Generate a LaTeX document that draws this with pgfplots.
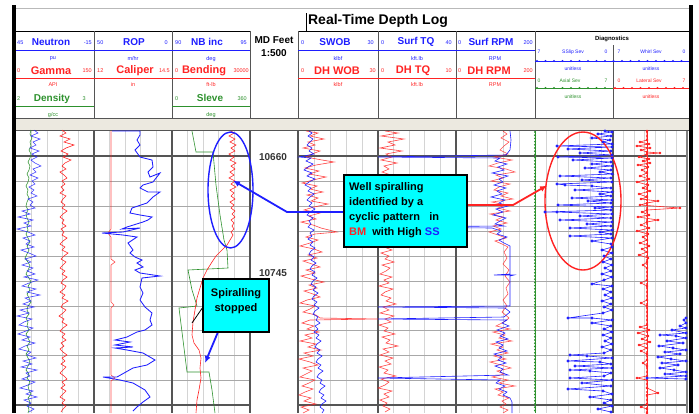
\documentclass[border=0pt]{standalone}
\usepackage{fontspec}
\setmainfont{Liberation Sans}
\usepackage{pgfplots}
\pgfplotsset{compat=1.18}
\usetikzlibrary{arrows.meta}

\definecolor{logblue}{RGB}{30,30,255}
\definecolor{logred}{RGB}{255,35,35}
\definecolor{loggreen}{RGB}{45,145,45}
\definecolor{gridminor}{RGB}{212,212,212}
\definecolor{gridmajor}{RGB}{168,168,168}
\definecolor{trackline}{RGB}{85,85,85}
\definecolor{band}{RGB}{236,233,224}
\definecolor{callout}{RGB}{0,255,255}

\tikzset{
  hname/.style={font=\fontsize{10}{11}\selectfont\bfseries, inner sep=0pt},
  rname/.style={font=\fontsize{11}{12}\selectfont\bfseries, inner sep=0pt},
  hnum/.style={font=\fontsize{5.5}{6}\selectfont, inner sep=0pt},
  dnum/.style={font=\fontsize{5}{6}\selectfont, inner sep=0pt},
  ctext/.style={font=\fontsize{11}{12}\selectfont\bfseries, inner sep=0pt, anchor=west},
  trace/.style={line width=0.6pt},
}

\begin{document}
\begin{tikzpicture}[x=1pt,y=1pt]
\useasboundingbox (0,0) rectangle (699,413);
\begin{axis}[at={(0,0)}, anchor=south west, width=699pt, height=413pt,
  scale only axis, xmin=0, xmax=699, ymin=0, ymax=413, y dir=reverse,
  hide axis, clip=false]

% ---------- header frame ----------
\draw[gray!55, line width=1] (12,8) -- (693,8);
\draw[black, line width=0.8] (16,31) -- (250,31);
\draw[black, line width=0.8] (298,31) -- (689,31);
\draw[black, line width=0.8] (306,13) -- (306,31);
\fill[band] (16,119) rectangle (689,130);
\draw[trackline, line width=1.3] (16,118.5) -- (689,118.5);
\draw[trackline, line width=1.3] (16,130.5) -- (689,130.5);
\pgfplotsinvokeforeach{94,172,250,298,378,456,535}{
  \draw[trackline, line width=1] (#1,31) -- (#1,118.5);}
\draw[trackline, line width=1] (613,45) -- (613,118.5);

% scale lines of the curve headers
\draw[logblue, line width=1] (16,50) -- (250,50);
\draw[logblue, line width=1] (298,50) -- (535,50);
\draw[logred, line width=1] (16,78) -- (250,78);
\draw[logred, line width=1] (298,78) -- (535,78);
\draw[loggreen, line width=1] (16,106) -- (94,106);
\draw[loggreen, line width=1] (172,106) -- (250,106);
% diagnostics scale lines (dotted)
\draw[logblue, line width=0.7] (535,61) -- (689,61);
\draw[logblue, line width=2.2, line cap=round, dash pattern=on 0pt off 8.5pt] (537,61) -- (689,61);
\draw[loggreen, line width=0.7] (535,88) -- (613,88);
\draw[loggreen, line width=2.2, line cap=round, dash pattern=on 0pt off 8.5pt] (537,88) -- (613,88);
\draw[logred, line width=0.7] (613,88) -- (689,88);
\draw[logred, line width=2.2, line cap=round, dash pattern=on 0pt off 8.5pt] (615,88) -- (689,88);

% ---------- header text ----------
\node[font=\fontsize{14}{15}\selectfont\bfseries, inner sep=0pt] at (378,21) {Real-Time Depth Log};

% track 1
\node[hnum, text=logblue, anchor=west] at (17,43) {45};
\node[hname, text=logblue] at (51,42) {Neutron};
\node[hnum, text=logblue, anchor=east] at (92,43) {-15};
\node[hnum, text=logblue] at (53,59) {pu};
\node[hnum, text=logred, anchor=west] at (17,71) {0};
\node[rname, text=logred] at (51,70.5) {Gamma};
\node[hnum, text=logred, anchor=east] at (92,71) {150};
\node[hnum, text=logred] at (53,85) {API};
\node[hnum, text=loggreen, anchor=west] at (17,99) {2};
\node[hname, text=loggreen] at (52,98.5) {Density};
\node[hnum, text=loggreen, anchor=east] at (86,99) {3};
\node[hnum, text=loggreen] at (53,115) {g/cc};
% track 2
\node[hnum, text=logblue, anchor=west] at (97,43) {50};
\node[hname, text=logblue] at (134,42) {ROP};
\node[hnum, text=logblue, anchor=east] at (168,43) {0};
\node[hnum, text=logblue] at (133,59) {m/hr};
\node[hnum, text=logred, anchor=west] at (97,71) {12};
\node[rname, text=logred] at (135,70.5) {Caliper};
\node[hnum, text=logred, anchor=east] at (170,71) {14.5};
\node[hnum, text=logred] at (133,85) {in};
% track 3
\node[hnum, text=logblue, anchor=west] at (175,43) {90};
\node[hname, text=logblue] at (207,42) {NB inc};
\node[hnum, text=logblue, anchor=east] at (247,43) {95};
\node[hnum, text=logblue] at (211,59) {deg};
\node[hnum, text=logred, anchor=west] at (175,71) {0};
\node[rname, text=logred] at (204,70.5) {Bending};
\node[hnum, text=logred, anchor=east] at (249,71) {30000};
\node[hnum, text=logred] at (211,85) {ft-lb};
\node[hnum, text=loggreen, anchor=west] at (175,99) {0};
\node[hname, text=loggreen] at (210,98) {Sleve};
\node[hnum, text=loggreen, anchor=east] at (247,99) {360};
\node[hnum, text=loggreen] at (211,115) {deg};
% depth track
\node[font=\fontsize{10}{11}\selectfont\bfseries, inner sep=0pt] at (274,40) {MD Feet};
\node[font=\fontsize{10}{11}\selectfont\bfseries, inner sep=0pt] at (274,53) {1:500};
% track 4
\node[hnum, text=logblue, anchor=west] at (301,43) {0};
\node[hname, text=logblue] at (335,42) {SWOB};
\node[hnum, text=logblue, anchor=east] at (374,43) {30};
\node[hnum, text=logblue] at (338,59) {klbf};
\node[hnum, text=logred, anchor=west] at (301,71) {0};
\node[rname, text=logred] at (337,70.5) {DH WOB};
\node[hnum, text=logred, anchor=east] at (376,71) {30};
\node[hnum, text=logred] at (338,85) {klbf};
% track 5
\node[hnum, text=logblue, anchor=west] at (381,43) {0};
\node[hname, text=logblue] at (416,42) {Surf TQ};
\node[hnum, text=logblue, anchor=east] at (452,43) {40};
\node[hnum, text=logblue] at (417,59) {kft.lb};
\node[hnum, text=logred, anchor=west] at (381,71) {0};
\node[rname, text=logred] at (413,70.5) {DH TQ};
\node[hnum, text=logred, anchor=east] at (452,71) {10};
\node[hnum, text=logred] at (417,85) {kft.lb};
% track 6
\node[hnum, text=logblue, anchor=west] at (458,43) {0};
\node[hname, text=logblue] at (491,42) {Surf RPM};
\node[hnum, text=logblue, anchor=east] at (533,43) {200};
\node[hnum, text=logblue] at (495,59) {RPM};
\node[hnum, text=logred, anchor=west] at (458,71) {0};
\node[rname, text=logred] at (489,70.5) {DH RPM};
\node[hnum, text=logred, anchor=east] at (533,71) {200};
\node[hnum, text=logred] at (495,85) {RPM};
% diagnostics
\node[font=\fontsize{6}{7}\selectfont\bfseries, inner sep=0pt] at (612,39) {Diagnostics};
\node[dnum, text=logblue] at (539,52) {7};
\node[dnum, text=logblue] at (573,52) {SSlip Sev};
\node[dnum, text=logblue] at (606,52) {0};
\node[dnum, text=logblue] at (573,69) {unitless};
\node[dnum, text=logblue] at (619,52) {7};
\node[dnum, text=logblue] at (651,52) {Whirl Sev};
\node[dnum, text=logblue] at (684,52) {0};
\node[dnum, text=logblue] at (651,69) {unitless};
\node[dnum, text=loggreen] at (539,81) {0};
\node[dnum, text=loggreen] at (570,81) {Axial Sev};
\node[dnum, text=loggreen] at (606,81) {7};
\node[dnum, text=loggreen] at (573,97) {unitless};
\node[dnum, text=logred] at (619,81) {0};
\node[dnum, text=logred] at (649,81) {Lateral Sev};
\node[dnum, text=logred] at (684,81) {7};
\node[dnum, text=logred] at (651,97) {unitless};

% ---------- data area grid ----------
\pgfplotsinvokeforeach{31.6,47.2,62.8,78.4,109.6,125.2,140.8,156.4,187.6,203.2,218.8,234.4,
  314,330,346,362,393.6,409.2,424.8,440.4,471.8,487.6,503.4,519.2,
  546.1,557.3,568.4,579.6,590.7,601.9,623.6,634.1,644.7,655.3,665.9,676.4}{
  \draw[gridminor, line width=0.9] (#1,131) -- (#1,413);}
\pgfplotsinvokeforeach{181,206,231,256,281,306,330,355,380}{
  \draw[gridmajor, line width=0.9] (16,#1) -- (250,#1);
  \draw[gridmajor, line width=0.9] (298,#1) -- (687,#1);}
\draw[trackline, line width=1.4] (16,156) -- (250,156);
\draw[trackline, line width=1.4] (298,156) -- (687,156);
\draw[trackline, line width=1.4] (16,405) -- (250,405);
\draw[trackline, line width=1.4] (298,405) -- (687,405);
\pgfplotsinvokeforeach{94,172,250,298,378,456,613}{
  \draw[trackline, line width=1.1] (#1,131) -- (#1,413);}
\draw[gray, line width=1.1] (687,131) -- (687,413);

% depth labels
\node[font=\fontsize{10}{11}\selectfont\bfseries, text=black!80, inner sep=0pt] at (273,157) {10660};
\node[font=\fontsize{10}{11}\selectfont\bfseries, text=black!80, inner sep=0pt] at (273,273) {10745};

% ---------- track 1: Density, Neutron, Gamma ----------
\addplot[loggreen, trace] coordinates {
(31,130)(30,134)(32,138)(30,142)(31,146)(29,150)(31,154)(30,158)(28,162)(30,166)(29,170)(27,174)
(29,178)(28,182)(26,186)(28,190)(27,194)(29,198)(27,202)(26,206)(28,210)(26,214)(27,218)(29,222)
(27,226)(28,230)(26,234)(28,238)(30,242)(27,246)(29,250)(27,254)(25,258)(28,262)(30,266)(28,270)
(26,274)(29,278)(31,282)(28,286)(30,290)(27,294)(29,298)(31,302)(28,306)(27,310)(29,314)(26,318)
(28,322)(27,326)(29,330)(26,334)(28,338)(30,342)(27,346)(29,350)(26,354)(28,358)(30,362)(28,366)
(26,370)(29,374)(27,378)(30,382)(28,386)(29,390)(31,394)(28,398)(30,402)(28,406)(29,410)(28,413)};
\addplot[logblue, trace, opacity=0.85] coordinates {
(34,130)(38,133)(31,136)(40,139)(33,142)(36,145)(30,148)(39,151)(32,154)(37,157)(31,160)(35,163)
(41,166)(33,169)(36,172)(30,175)(38,178)(32,181)(35,184)(29,187)(34,190)(31,193)(37,196)(28,199)
(33,202)(30,205)(35,208)(22,211)(30,214)(18,217)(33,220)(24,223)(31,226)(17,229)(28,232)(35,235)
(23,238)(30,241)(26,244)(34,247)(21,250)(29,253)(36,256)(25,259)(31,262)(22,265)(33,268)(27,271)
(35,274)(24,277)(38,280)(29,283)(22,286)(36,289)(27,292)(40,295)(25,298)(31,301)(23,304)(34,307)
(20,310)(29,313)(17,316)(32,319)(24,322)(19,325)(33,328)(26,331)(18,334)(30,337)(22,340)(35,343)
(25,346)(19,349)(31,352)(27,355)(36,358)(23,361)(32,364)(21,367)(37,370)(26,373)(30,376)(22,379)
(35,382)(28,385)(20,388)(33,391)(26,394)(37,397)(24,400)(31,403)(27,406)(34,409)(29,412)};
\addplot[logred, trace] coordinates {
(62,130)(66,133)(60,136)(70,139)(64,142)(74,145)(66,148)(61,151)(68,154)(63,157)(71,160)(65,163)
(62,166)(66,169)(60,172)(64,175)(67,178)(62,181)(65,184)(61,187)(64,190)(60,193)(66,196)(63,199)
(61,202)(65,205)(62,208)(67,211)(63,214)(60,217)(64,220)(62,223)(66,226)(61,229)(64,232)(62,235)
(67,238)(63,241)(60,244)(65,247)(62,250)(68,253)(64,256)(61,259)(66,262)(63,265)(60,268)(65,271)
(62,274)(67,277)(63,280)(61,283)(66,286)(64,289)(60,292)(65,295)(62,298)(68,301)(63,304)(61,307)
(66,310)(63,313)(59,316)(64,319)(62,322)(67,325)(63,328)(60,331)(65,334)(62,337)(66,340)(61,343)
(64,346)(60,349)(63,352)(67,355)(62,358)(65,361)(61,364)(66,367)(63,370)(60,373)(64,376)(67,379)
(62,382)(65,385)(61,388)(66,391)(63,394)(60,397)(65,400)(62,403)(66,406)(63,409)(61,412)};

% ---------- track 2: Caliper, ROP ----------
\addplot[logred, trace, opacity=0.8] coordinates {
(111,131)(111,229)(108,233)(111,237)(111,259)(115,262)(111,265)(111,302)(114,305)(111,308)
(111,375)(115,378)(111,381)(111,413)};
\addplot[logblue, line width=0.85pt] coordinates {
(112,131)(140,131)(140,135)(137,140)(140,145)(135,150)(140,157)(152,160)(153,167)(148,172)(150,177)
(160,173)(153,182)(143,185)(140,188)(148,192)(160,192)(153,197)(147,203)(132,208)(130,213)(140,215)
(152,217)(148,220)(143,222)(127,227)(122,229)(140,228)(123,232)(102,233)(123,235)(137,237)(128,243)
(133,250)(130,253)(135,257)(142,260)(137,263)(143,267)(135,270)(140,273)(160,276)(142,278)(140,287)
(143,293)(140,300)(145,307)(152,313)(150,320)(152,325)(145,330)(137,332)(127,337)(115,340)(130,342)
(115,345)(133,347)(115,348)(127,350)(143,353)(155,360)(147,365)(133,368)(117,377)(103,377)(120,380)
(133,383)(145,390)(150,397)(143,402)(137,407)(133,411)};

% ---------- track 3: Sleve, Bending ----------
\addplot[loggreen, trace] coordinates {
(192,131)(196,152)(213,152)(216,185)(220,215)(224,240)(227,250)(228,268)(188,270)(192,290)(197,306)
(179,308)(183,340)(187,372)(209,372)(212,390)(215,413)};
\addplot[logred, trace] coordinates {
(231,131)(234,133)(229,136)(235,139)(230,142)(236,145)(231,148)(235,151)(229,154)(234,157)(230,160)
(236,163)(231,166)(235,169)(230,172)(234,175)(229,178)(235,181)(231,184)(236,187)(230,190)(234,193)
(231,196)(235,199)(230,202)(234,205)(231,208)(235,211)(232,214)(235,217)(231,220)(234,223)(232,226)
(234,229)(231,232)(233,235)(230,240)(227,245)(222,250)(216,256)(212,262)(207,270)(203,278)(200,288)
(197,298)(195,310)(193,322)(192,335)(194,343)(199,350)(201,358)(200,368)(201,378)(199,390)(197,400)
(196,413)};

% ---------- track 4: DH WOB, SWOB ----------
\addplot[logred, trace, opacity=0.85] coordinates {
(306,131)(318,133)(310,136)(324,139)(308,142)(315,145)(303,148)(320,151)(312,154)(306,157)(322,160)
(334,162)(316,165)(305,168)(319,171)(309,174)(326,177)(313,180)(302,183)(317,186)(310,189)(323,192)
(307,195)(318,198)(311,201)(328,204)(314,207)(304,210)(320,213)(309,216)(316,219)(301,222)(313,225)
(321,228)(337,232)(315,234)(306,237)(318,240)(310,243)(300,246)(314,249)(322,252)(308,255)(317,258)
(303,261)(312,264)(320,267)(306,270)(315,273)(301,276)(311,279)(324,282)(309,285)(317,288)(304,291)
(313,294)(320,297)(307,300)(300,303)(315,306)(310,309)(303,312)(316,315)(320,318)(378,319)(310,320)
(302,323)(314,326)(307,329)(319,332)(305,335)(312,338)(300,341)(316,344)(308,347)(321,350)(304,353)
(313,356)(299,359)(310,362)(318,365)(303,368)(312,371)(306,374)(300,377)(315,380)(309,383)(302,386)
(313,389)(305,392)(299,395)(311,398)(304,401)(316,404)(301,407)(309,410)(303,413)};
\addplot[logblue, trace] coordinates {
(309,131)(312,133)(308,136)(313,139)(310,142)(307,145)(312,148)(309,151)(314,154)(299,157)(311,158)
(306,161)(313,164)(308,167)(304,170)(312,173)(307,176)(315,179)(309,182)(305,185)(311,188)(308,191)
(314,194)(310,197)(307,200)(312,203)(309,206)(315,209)(310,212)(307,215)(313,218)(309,221)(311,224)
(308,227)(314,230)(310,233)(312,236)(308,239)(313,242)(310,245)(315,248)(311,251)(309,254)(314,257)
(311,260)(316,263)(312,266)(310,269)(315,272)(312,275)(317,278)(313,281)(311,284)(316,287)(313,290)
(318,293)(314,296)(312,299)(317,302)(314,305)(319,308)(315,311)(313,314)(318,317)(316,320)(320,323)
(315,326)(318,329)(314,332)(319,335)(316,338)(321,341)(317,344)(315,347)(320,350)(317,353)(322,356)
(318,359)(316,362)(321,365)(318,368)(323,371)(319,374)(317,377)(322,380)(320,383)(325,386)(321,389)
(319,392)(324,395)(321,398)(326,401)(322,404)(320,407)(324,410)(322,413)};

% ---------- track 5: DH TQ ----------
\addplot[logred, trace, opacity=0.85] coordinates {
(385,131)(398,133)(381,136)(404,139)(388,142)(395,145)(380,148)(402,151)(386,154)(392,157)(381,160)
(397,163)(384,166)(389,169)(382,172)(391,175)(385,178)(390,181)(383,184)(388,187)(382,190)(387,193)
(384,196)(389,199)(383,202)(386,205)(382,208)(388,211)(384,214)(387,217)(383,220)(389,223)(385,226)
(382,229)(388,232)(384,235)(386,238)(383,241)(390,244)(384,247)(392,250)(381,253)(389,256)(385,259)
(394,262)(382,265)(390,268)(386,271)(380,274)(392,277)(384,280)(389,283)(379,286)(393,289)(385,292)
(381,295)(391,298)(386,301)(396,304)(383,307)(389,310)(380,313)(394,316)(385,319)(391,322)(379,325)
(388,328)(384,331)(395,334)(382,337)(390,340)(386,343)(398,346)(383,349)(389,352)(380,355)(393,358)
(385,361)(391,364)(379,367)(388,370)(384,373)(396,376)(381,379)(389,382)(385,385)(378,388)(392,391)
(384,394)(389,397)(380,400)(387,403)(383,406)(390,409)(385,412)};

% ---------- track 6: DH RPM, Surf RPM ----------
\addplot[logred, trace, opacity=0.8] coordinates {
(503,131)(507,134)(501,138)(509,142)(504,146)(500,150)(508,154)(494,157)(512,160)(498,163)(489,166)
(506,169)(515,172)(496,175)(503,178)(491,181)(510,184)(499,187)(494,190)(508,193)(501,196)(513,199)
(492,202)(505,205)(498,208)(510,211)(490,214)(503,217)(496,220)(507,223)(493,226)(501,229)(489,232)
(498,235)(506,238)(495,241)(502,244)(508,247)(504,252)(507,258)(503,264)(509,270)(505,276)(510,282)
(506,288)(508,294)(503,300)(507,306)(502,312)(509,318)(504,322)(496,326)(510,329)(493,332)(505,335)
(499,338)(512,341)(491,344)(503,347)(497,350)(508,353)(494,356)(506,359)(490,362)(501,365)(511,368)
(497,371)(504,374)(492,377)(508,380)(499,383)(515,386)(495,389)(503,392)(498,395)(509,398)(502,401)
(506,404)(500,407)(508,410)(503,413)};
\addplot[logblue, trace] coordinates {
(510,131)(511,140)(510,150)(506,155)(378,157)(500,158)(495,161)(507,164)(498,167)(504,170)(492,173)
(508,176)(499,179)(503,182)(494,185)(506,188)(497,191)(502,194)(491,197)(505,200)(499,203)(508,206)
(496,209)(503,212)(493,215)(506,218)(500,221)(495,224)(504,226)(378,227)(492,228)(501,231)(497,234)
(507,237)(499,240)(504,243)(510,246)(510,274)(494,275)(514,275)(510,276)(510,306)(378,307)(505,308)
(510,312)(504,317)(378,319)(507,320)(502,323)(509,326)(497,330)(505,333)(500,336)(508,339)(496,342)
(503,345)(499,348)(507,351)(494,354)(502,357)(498,360)(506,363)(495,366)(503,369)(500,372)(508,375)
(378,378)(500,380)(496,383)(505,386)(499,389)(507,392)(503,395)(510,398)(512,402)(512,413)};

% ---------- diagnostics ----------
% Axial Sev at zero
\draw[loggreen, line width=0.7] (535,131) -- (535,413);
\draw[loggreen, line width=2.2, line cap=round, dash pattern=on 0pt off 3.2pt] (535,132) -- (535,413);
% Stick-slip severity
\addplot[logblue, line width=0.6pt, mark=*, mark size=1.1pt] coordinates {
(605,131)(612,132)(598,134)(611,136)(592,138)(610,140)(603,142)(612,144)
(557,146)(612,147)(568,149)(611,151)(580,153)(612,155)(558,157)(612,158)(573,160)(611,162)(592,164)
(612,166)(585,168)(611,170)(600,172)(612,174)(560,176)(611,178)(582,180)(612,182)(557,184)(565,185)
(592,186)(611,188)(575,190)(612,192)(600,194)(611,196)(572,198)(612,200)(588,201)(611,203)(558,205)
(612,207)(595,208)(611,210)(545,212)(557,212)(612,214)(580,216)(611,218)(560,220)(612,222)(587,224)
(611,226)(570,228)(612,230)(600,232)(611,234)(570,236)(612,238)(592,241)(611,244)(612,247)(602,250)
(612,253)(604,256)(611,259)(603,262)(612,265)(605,268)(611,271)(602,274)(612,277)(604,280)(592,284)
(612,286)(603,289)(611,292)(605,295)(612,298)(602,301)(611,304)(604,307)(612,310)(603,313)(568,318)
(592,318)(612,320)(592,323)(611,326)(604,329)(612,332)(603,335)(611,338)(605,341)(612,344)(602,347)
(611,350)(604,353)(570,355)(587,356)(612,358)(568,361)(600,362)(611,364)(575,366)(612,368)(570,370)
(590,371)(611,373)(604,376)(570,378)(612,380)(582,383)(611,386)(568,389)(603,391)(612,394)(590,397)
(611,400)(604,403)(612,406)(598,409)(611,412)};
% Lateral severity
\draw[logred, line width=0.7] (647,131) -- (647,413);
\draw[logred, line width=2.2, line cap=round, dash pattern=on 0pt off 4pt] (647,132) -- (647,413);
\addplot[logred, line width=0.6pt, mark=*, mark size=0.9pt] coordinates {
(647,131)(647,140)(640,142)(649,144)(637,146)(650,148)(641,150)(647,152)(660,153)(647,154)(639,157)
(649,159)(643,161)(650,163)(638,165)(648,167)(642,170)(647,173)(640,176)(649,179)(637,182)(648,185)
(643,188)(650,191)(639,194)(647,197)(641,199)(658,201)(647,203)(640,205)(680,208)(647,210)(642,212)
(649,215)(638,217)(658,220)(647,222)(641,225)(649,228)(637,231)(648,234)(643,237)(647,240)(640,243)
(649,246)(642,249)(647,252)(639,255)(648,258)(647,262)(643,265)(647,268)(647,280)(641,283)(647,286)
(647,300)(641,303)(647,306)(647,325)(640,327)(649,330)(638,333)(648,336)(642,339)(650,342)(639,345)
(647,348)(641,351)(647,354)(647,360)(643,363)(647,366)(647,376)(637,378)(647,380)(647,388)(658,393)
(647,395)(647,404)(641,407)(647,409)(647,413)};
% Whirl severity
\addplot[logblue, line width=0.6pt, mark=*, mark size=1.1pt] coordinates {
(686,318)(684,320)(686,323)(680,326)(686,328)(672,330)(686,333)(660,335)(676,336)(686,338)(667,341)
(683,343)(659,346)(673,348)(686,350)(665,352)(680,354)(658,357)(671,359)(686,361)(662,363)(678,365)
(660,368)(674,370)(686,372)(665,374)(686,376)(647,378)(686,379)};

% ---------- annotations ----------
\draw[logblue, line width=1.4] (230.5,190) ellipse [x radius=22.5pt, y radius=58pt];
\draw[logred, line width=1.4] (583,201) ellipse [x radius=38pt, y radius=69pt];
\draw[logblue, line width=1.8, -{Latex[length=7pt,width=6pt]}] (343,212) -- (287,212) -- (233,180.5);
\draw[logred, line width=1.8, -{Latex[length=7pt,width=6pt]}] (467,205) -- (513,205) -- (547,185.5);
\draw[black, line width=0.8] (203,307) -- (192,323);
\draw[logblue, line width=1.8, -{Latex[length=7pt,width=6pt]}] (218,332) -- (205,363);

\draw[black, line width=2, fill=callout] (344,175) rectangle (467,247);
\node[ctext] at (349,188) {Well spiralling};
\node[ctext] at (349,203) {identified by a};
\node[ctext] at (349,218) {cyclic pattern\ \ \ in};
\node[ctext] at (349,232.5) {\textcolor{logred}{BM}\ \ with High \textcolor{logblue}{SS}};

\draw[black, line width=2, fill=callout] (203,279) rectangle (269,332);
\node[font=\fontsize{11}{12}\selectfont\bfseries, inner sep=0pt] at (236,294) {Spiralling};
\node[font=\fontsize{11}{12}\selectfont\bfseries, inner sep=0pt] at (236,309) {stopped};

% ---------- outer frame ----------
\fill[black] (12,5) rectangle (16,413);
\fill[black] (689,5) rectangle (693,413);
\end{axis}
\end{tikzpicture}
\end{document}
